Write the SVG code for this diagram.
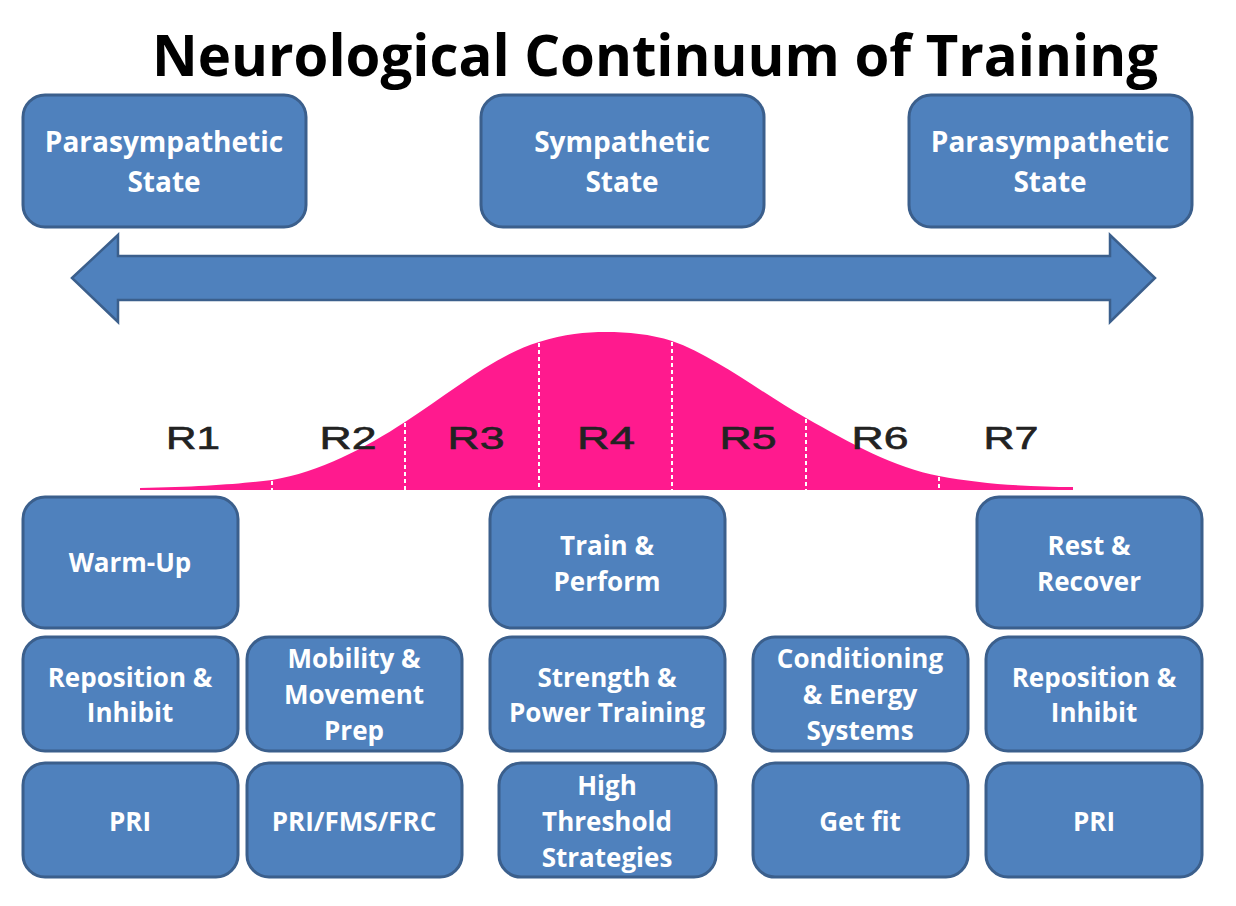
<svg xmlns="http://www.w3.org/2000/svg" width="1236" height="906" viewBox="0 0 1236 906">
<style>
.box{fill:#4F81BD;stroke:#3B5F8C;stroke-width:3}
.t{font-family:"Open Sans","Noto Sans","Liberation Sans",sans-serif;font-weight:700;fill:#FFFFFF;text-anchor:middle}
.t1{font-size:28px}
.t2{font-size:26px}
.r{font-family:"Liberation Sans",Arial,sans-serif;font-size:31px;fill:#222222;stroke:#222222;stroke-width:0.6;text-anchor:middle}
.div{stroke:#FFFFFF;stroke-width:2;stroke-dasharray:4 3}
</style>
<rect width="1236" height="906" fill="#FFFFFF"/>
<text x="655" y="76" font-family="'Open Sans','Noto Sans',sans-serif" font-weight="700" font-size="58" fill="#000000" text-anchor="middle" textLength="1006" lengthAdjust="spacingAndGlyphs">Neurological Continuum of Training</text>

<g id="top-left">
<rect class="box" x="23" y="95" width="283" height="132" rx="22"/>
<text class="t t1" x="164" y="152">Parasympathetic</text>
<text class="t t1" x="164" y="192">State</text>
</g>
<g id="top-mid">
<rect class="box" x="481" y="95" width="283" height="132" rx="22"/>
<text class="t t1" x="622" y="152">Sympathetic</text>
<text class="t t1" x="622" y="192">State</text>
</g>
<g id="top-right">
<rect class="box" x="909" y="95" width="283" height="132" rx="22"/>
<text class="t t1" x="1050" y="152">Parasympathetic</text>
<text class="t t1" x="1050" y="192">State</text>
</g>

<g id="connectors">
<path d="M72,278 L118,235 L118,256 L1110,256 L1110,235 L1155,278 L1110,322 L1110,300 L118,300 L118,322 Z" fill="#4F81BD" stroke="#3B5F8C" stroke-width="2.5" stroke-linejoin="miter"/>
</g>

<g id="bell">
<path d="M140,488 C200,487 240,484 272,480 C320,472 365,448 405,422 C450,393 495,355 539,342 C565,334 585,332 606,332 C628,332 650,334 672,341 C715,356 760,392 806,418 C850,443 895,468 939,476 C980,484 1030,487 1073,487 L1073,490 L140,490 Z" fill="#FF1A8E"/>
<line class="div" x1="272" y1="481" x2="272" y2="490"/>
<line class="div" x1="405" y1="423" x2="405" y2="490"/>
<line class="div" x1="539" y1="343" x2="539" y2="490"/>
<line class="div" x1="672" y1="342" x2="672" y2="490"/>
<line class="div" x1="806" y1="419" x2="806" y2="490"/>
<line class="div" x1="939" y1="477" x2="939" y2="490"/>
<text class="r" x="193" y="449" textLength="54" lengthAdjust="spacingAndGlyphs">R1</text>
<text class="r" x="348" y="449" textLength="57" lengthAdjust="spacingAndGlyphs">R2</text>
<text class="r" x="476" y="449" textLength="57" lengthAdjust="spacingAndGlyphs">R3</text>
<text class="r" x="606" y="449" textLength="58" lengthAdjust="spacingAndGlyphs">R4</text>
<text class="r" x="748" y="449" textLength="57" lengthAdjust="spacingAndGlyphs">R5</text>
<text class="r" x="880" y="449" textLength="57" lengthAdjust="spacingAndGlyphs">R6</text>
<text class="r" x="1011" y="449" textLength="55" lengthAdjust="spacingAndGlyphs">R7</text>
</g>

<g id="warm-up">
<rect class="box" x="23" y="497" width="215" height="131" rx="22"/>
<text class="t t2" x="130" y="572">Warm-Up</text>
</g>
<g id="train-perform">
<rect class="box" x="490" y="497" width="235" height="131" rx="22"/>
<text class="t t2" x="607" y="555">Train &amp;</text>
<text class="t t2" x="607" y="591">Perform</text>
</g>
<g id="rest-recover">
<rect class="box" x="977" y="497" width="225" height="131" rx="22"/>
<text class="t t2" x="1089" y="555">Rest &amp;</text>
<text class="t t2" x="1089" y="591">Recover</text>
</g>

<g id="reposition-left">
<rect class="box" x="23" y="637" width="215" height="114" rx="22"/>
<text class="t t2" x="130" y="687">Reposition &amp;</text>
<text class="t t2" x="130" y="722">Inhibit</text>
</g>
<g id="mobility">
<rect class="box" x="247" y="637" width="215" height="114" rx="22"/>
<text class="t t2" x="354" y="668">Mobility &amp;</text>
<text class="t t2" x="354" y="704">Movement</text>
<text class="t t2" x="354" y="740">Prep</text>
</g>
<g id="strength">
<rect class="box" x="490" y="637" width="235" height="114" rx="22"/>
<text class="t t2" x="607" y="687">Strength &amp;</text>
<text class="t t2" x="607" y="722">Power Training</text>
</g>
<g id="conditioning">
<rect class="box" x="753" y="637" width="215" height="114" rx="22"/>
<text class="t t2" x="860" y="668">Conditioning</text>
<text class="t t2" x="860" y="704">&amp; Energy</text>
<text class="t t2" x="860" y="740">Systems</text>
</g>
<g id="reposition-right">
<rect class="box" x="986" y="637" width="216" height="114" rx="22"/>
<text class="t t2" x="1094" y="687">Reposition &amp;</text>
<text class="t t2" x="1094" y="722">Inhibit</text>
</g>

<g id="pri-left">
<rect class="box" x="23" y="763" width="215" height="114" rx="22"/>
<text class="t t2" x="130" y="831">PRI</text>
</g>
<g id="pri-fms-frc">
<rect class="box" x="247" y="763" width="215" height="114" rx="22"/>
<text class="t t2" x="354" y="831">PRI/FMS/FRC</text>
</g>
<g id="high-threshold">
<rect class="box" x="499" y="763" width="217" height="114" rx="22"/>
<text class="t t2" x="607" y="795">High</text>
<text class="t t2" x="607" y="831">Threshold</text>
<text class="t t2" x="607" y="867">Strategies</text>
</g>
<g id="get-fit">
<rect class="box" x="753" y="763" width="215" height="114" rx="22"/>
<text class="t t2" x="860" y="831">Get fit</text>
</g>
<g id="pri-right">
<rect class="box" x="986" y="763" width="216" height="114" rx="22"/>
<text class="t t2" x="1094" y="831">PRI</text>
</g>
</svg>
